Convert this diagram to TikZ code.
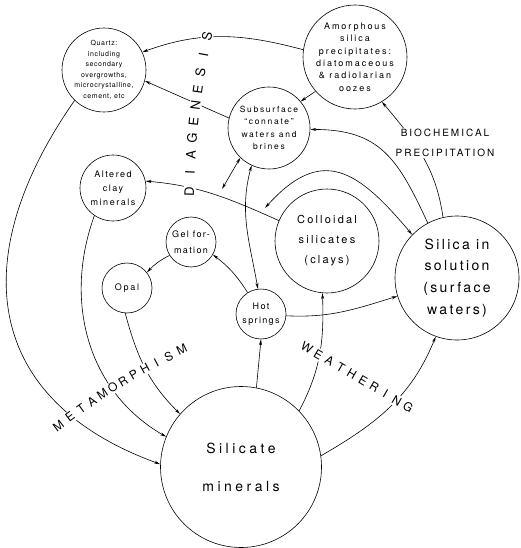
\documentclass[tikz,border=0pt]{standalone}
\usepackage{fontspec}
\setmainfont{TeX Gyre Heros}
\usetikzlibrary{arrows.meta}
\tikzset{
	bub/.style={circle, draw, line width=0.6pt, inner sep=0pt},
	arr/.style={line width=0.6pt, -{Stealth[length=6pt,width=3pt]}},
	dblarr/.style={line width=0.6pt, {Stealth[length=6pt,width=3pt]}-{Stealth[length=6pt,width=3pt]}},
	txt/.style n args={3}{align=center, font=\fontsize{#1}{#2}\selectfont\addfontfeature{LetterSpace=#3}},
	lettr/.style={inner sep=0pt, sloped, font=\fontsize{#1}{#1}\selectfont},
	band/.style={white, line width=12pt}
}

\begin{document}
\begin{tikzpicture}[x=1pt, y=1pt]
		%%%%% START %%%%%
		\useasboundingbox (0, 0) rectangle (520, -548);
		
		\node[bub, minimum size=84pt, label={[txt={7}{10.6}{8}]center:{Quartz:\\including\\secondary\\overgrowths,\\microcrystalline,\\cement, etc}}] (quartz) at (104, -70) {};
		\node[bub, minimum size=104pt, label={[txt={9}{12.4}{22}]center:{Amorphous\\silica\\precipitates:\\diatomaceous\\\& radiolarian\\oozes}}] (amor) at (355, -57) {};
		\node[bub, minimum size=82pt, label={[txt={8.5}{12.3}{20}]center:{Subsurface\\``connate''\\waters and\\brines}}] (subs) at (269, -128) {};
		\node[bub, minimum size=66pt, label={[txt={9}{14}{17}]center:{Altered\\clay\\minerals}}] (alter) at (113, -188) {};
		\node[bub, minimum size=50pt, label={[txt={9}{16}{15}]center:{Gel for-\\mation}}] (gel) at (191, -242) {};
		\node[bub, minimum size=50pt, label={[txt={9}{12}{20}]center:{Opal}}] (opal) at (127, -288) {};
		\node[bub, minimum size=50pt, label={[txt={9}{13.5}{15}]center:{Hot\\springs}}] (hot) at (261, -314) {};
		\node[bub, minimum size=104pt, label={[txt={11}{20}{20}]center:{Colloidal\\silicates\\(clays)}}] (coll) at (327, -241) {};
		\node[bub, minimum size=124pt, label={[txt={14}{21.7}{17}]center:{Silica in\\solution\\(surface\\waters)}}] (silica) at (457, -278) {};
		\node[bub, minimum size=161pt, label={[txt={14}{38}{25}]center:{Silicate\\minerals}}] (silicate) at (241, -467) {};
		
		\coordinate (tapsub) at (222, -189);
		\coordinate (tapcoll) at (265, -208);
		
		% diagenesis
		\draw[arr] (amor.172) to[out=165, in=20] (quartz.25);
		\draw[arr] (subs.166) -- (quartz.-15);
		\draw[arr] (amor.221) -- (subs.40);
		\draw[arr] (coll.157) to[out=156, in=-5] (alter.12);
		\draw[dblarr] (subs.226) -- (tapsub);
		\draw[dblarr] (subs.245) to[out=255, in=100] (hot.97);
		
		% solution
		\draw[arr] (silica.103) to[out=98, in=-50] (amor.-59);
		\draw[arr] (silica.118) to[out=115, in=0, looseness=1.2] (subs.-2);
		\draw[dblarr] (silica.136) to[out=130, in=48, looseness=1.45] (tapcoll);
		\draw[arr] (hot.-4) to[out=-3, in=197] (silica.197);
		\draw[arr] (hot.122) to[bend right=10] (gel.-30);
		\draw[arr] (gel.212) to[bend right=10] (opal.38);
		
		% weathering
		\draw[arr] (silicate.79) -- (hot.-90);
		\draw[arr] (silicate.44) to[out=62, in=-88] (coll.265);
		\draw[arr] (silicate.8) to[out=30, in=248] (silica.250);
		
		% metamorphism
		\draw[arr] (opal.266) to[out=-75, in=135] (silicate.139);
		\draw[arr] (alter.236) to[out=250, in=150] (silicate.158);
		\draw[arr] (quartz.226) to[out=235, in=160, looseness=1.3] (silicate.178);
		
		% lettering along the arrows
		\draw[band] (189.5, -197) to[bend left=5] (208.5, -30);
		\foreach \ch [count=\i, evaluate=\i as \p using (\i-0.5)/10] in {D,I,A,G,E,N,E,S,I,S}
			\path (189, -201.8) to[bend left=5] node[lettr=13, pos=\p] (dia\i) {\ch} (209, -26.2);
		
		\draw[band] (56, -428) to[bend left=6] (185, -349);
		\foreach \ch [count=\i, evaluate=\i as \p using (\i-0.5)/12] in {M,E,T,A,M,O,R,P,H,I,S,M}
			\path (52.3, -430.5) to[bend left=6] node[lettr=12, pos=\p] (meta\i) {\ch} (188.7, -346.5);
		
		\draw[band] (304, -346) -- (411, -409);
		\foreach \ch [count=\i, evaluate=\i as \p using (\i-0.5)/10] in {W,E,A,T,H,E,R,I,N,G}
			\path (301.4, -344.7) -- node[lettr=12, pos=\p] (weat\i) {\ch} (413.6, -410.3);
		
		\node[fill=white, inner sep=1pt, txt={10}{20}{20}] (bio) at (445, -143) {BIOCHEMICAL\\PRECIPITATION};
		
		%%%%% END %%%%%
	\end{tikzpicture}
\end{document}
